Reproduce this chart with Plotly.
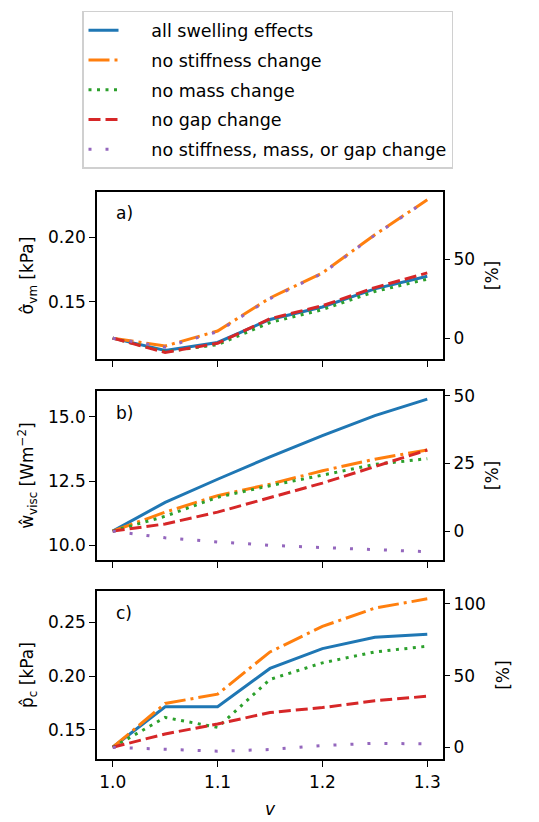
import plotly.graph_objects as go

v = [1.0, 1.05, 1.1, 1.15, 1.2, 1.25, 1.3]

names = ["all swelling effects", "no stiffness change", "no mass change",
         "no gap change", "no stiffness, mass, or gap change"]

# panel a: sigma_vm [kPa]
sig_all = [0.122, 0.1125, 0.1187, 0.1364, 0.1460, 0.1600, 0.1698]
sig_nostiff = [0.122, 0.1159, 0.1275, 0.1530, 0.1723, 0.2018, 0.2287]
sig_nomass = [0.122, 0.1115, 0.1170, 0.1340, 0.1440, 0.1580, 0.1675]
sig_nogap = [0.122, 0.1110, 0.1180, 0.1370, 0.1470, 0.1610, 0.1723]
sig_none = [0.122, 0.1150, 0.1270, 0.1525, 0.1720, 0.2015, 0.2285]

# panel b: w_visc [W m^-2]
w_all = [10.55, 11.67, 12.57, 13.44, 14.27, 15.05, 15.69]
w_nostiff = [10.55, 11.29, 11.93, 12.38, 12.90, 13.35, 13.71]
w_nomass = [10.55, 11.13, 11.87, 12.32, 12.73, 13.15, 13.37]
w_nogap = [10.55, 10.83, 11.29, 11.87, 12.42, 13.06, 13.71]
w_none = [10.55, 10.29, 10.13, 10.00, 9.91, 9.82, 9.75]

# panel c: p_c [kPa]
p_all = [0.1336, 0.1713, 0.1713, 0.2071, 0.2256, 0.2361, 0.2389]
p_nostiff = [0.1336, 0.1744, 0.1831, 0.2225, 0.2463, 0.2633, 0.2720]
p_nomass = [0.1336, 0.1614, 0.1521, 0.1969, 0.2123, 0.2225, 0.2278]
p_nogap = [0.1336, 0.1460, 0.1553, 0.1660, 0.1706, 0.1769, 0.1812]
p_none = [0.1336, 0.1315, 0.1299, 0.1315, 0.1352, 0.1373, 0.1367]

panels = [
    dict(data=[sig_all, sig_nostiff, sig_nomass, sig_nogap, sig_none],
         yrange=[0.1056, 0.2350], ticks=[0.15, 0.20], fmt=".2f", rticks=[0, 50],
         title="σ\u0302<sub>vm</sub> [kPa]", label="a)", dom=[0.5669, 0.7725]),
    dict(data=[w_all, w_nostiff, w_nomass, w_nogap, w_none],
         yrange=[9.43, 16.0], ticks=[10.0, 12.5, 15.0], fmt=".1f", rticks=[0, 25, 50],
         title="w\u0302<sub>visc</sub> [Wm<sup>−2</sup>]", label="b)", dom=[0.3212, 0.5280]),
    dict(data=[p_all, p_nostiff, p_nomass, p_nogap, p_none],
         yrange=[0.1222, 0.2796], ticks=[0.15, 0.20, 0.25], fmt=".2f", rticks=[0, 50, 100],
         title="p\u0302<sub>c</sub> [kPa]", label="c)", dom=[0.0766, 0.2835]),
]

colors = ["#1f77b4", "#ff7f0e", "#2ca02c", "#d62728", "#9467bd"]
dashes = ["solid", "21px,5px,3px,5px", "3px,5.5px", "12px,5px", "3px,14px"]

fig = go.Figure()
FONT = "DejaVu Sans"
FS = 17
PAD = "\u00a0" * 5
xdom = [97 / 539, 443 / 539]
xrange = [0.985, 1.315]

layout = dict(
    width=539, height=822,
    margin=dict(l=0, r=0, t=0, b=0),
    paper_bgcolor="white", plot_bgcolor="white",
    font=dict(family=FONT, size=FS, color="black"),
    showlegend=True,
    legend=dict(x=82 / 539, y=1 - 5 / 822, xanchor="left", yanchor="top",
                bgcolor="white", bordercolor="#d0d0d0", borderwidth=1.5,
                font=dict(size=17.5), tracegroupgap=4),
    annotations=[],
)

for i, p in enumerate(panels):
    n = i + 1
    xa = "x" if n == 1 else f"x{n}"
    yl = f"y{2 * n - 1}" if n > 1 else "y"
    yr = f"y{2 * n}"
    base = p["data"][0][0]
    for k in range(5):
        fig.add_trace(go.Scatter(
            x=v, y=p["data"][k], mode="lines", name=PAD + names[k],
            legendgroup=names[k], showlegend=(n == 1),
            line=dict(color=colors[k], width=3, dash=dashes[k]),
            xaxis=xa, yaxis=yl))
    # invisible trace to attach right axis
    fig.add_trace(go.Scatter(x=[v[0]], y=[0], mode="lines", showlegend=False,
                             hoverinfo="skip", line=dict(width=0),
                             xaxis=xa, yaxis=yr))
    xkey = "xaxis" if n == 1 else f"xaxis{n}"
    ylkey = "yaxis" if n == 1 else f"yaxis{2 * n - 1}"
    yrkey = f"yaxis{2 * n}"
    layout[xkey] = dict(domain=xdom, range=xrange, anchor=yl,
                        tickvals=[1.0, 1.1, 1.2, 1.3], ticktext=["1.0", "1.1", "1.2", "1.3"],
                        showticklabels=(n == 3), ticks="outside", ticklen=6, tickwidth=1.3,
                        tickcolor="black", showline=True, linewidth=1.5, linecolor="black",
                        mirror=True, showgrid=False, zeroline=False,
                        tickfont=dict(size=FS))
    if n == 3:
        layout[xkey]["title"] = dict(text="<i>v</i>", font=dict(size=FS), standoff=12)
    layout[ylkey] = dict(domain=p["dom"], range=p["yrange"], anchor=xa,
                         tickvals=p["ticks"], tickformat=p["fmt"], tickfont=dict(size=FS),
                         ticks="outside", ticklen=6, tickwidth=1.3, tickcolor="black",
                         showline=True, linewidth=1.5, linecolor="black", mirror=True,
                         showgrid=False, zeroline=False,
                         title=dict(text=p["title"], font=dict(size=FS), standoff=10))
    rr = [(p["yrange"][0] / base - 1) * 100, (p["yrange"][1] / base - 1) * 100]
    layout[yrkey] = dict(overlaying=yl, side="right", anchor=xa, range=rr,
                         tickvals=p["rticks"], tickfont=dict(size=FS),
                         ticks="outside", ticklen=6, tickwidth=1.3,
                         tickcolor="black", showline=False, showgrid=False, zeroline=False,
                         title=dict(text="[%]", font=dict(size=FS), standoff=12))
    layout["annotations"].append(dict(
        text=p["label"], xref=f"{xa} domain", yref=f"{yl} domain",
        x=0.05, y=0.87, xanchor="left", yanchor="middle", showarrow=False,
        font=dict(size=FS)))

fig.update_layout(**layout)
fig.write_html("out.html", config={"displayModeBar": False},
               post_script="document.body.style.margin='0';")
